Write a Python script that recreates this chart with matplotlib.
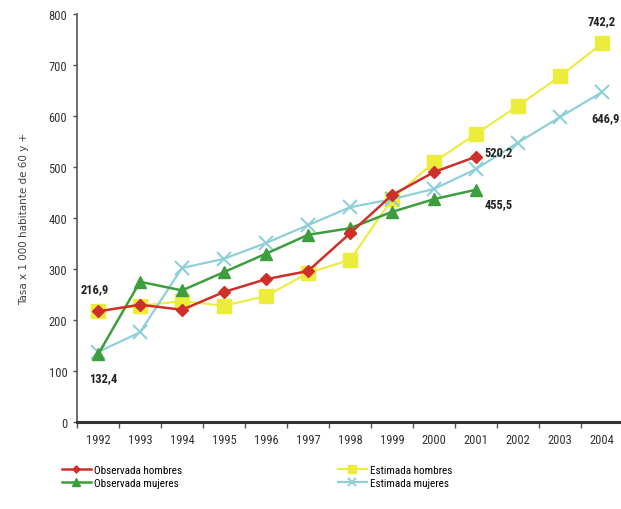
import matplotlib
matplotlib.use("Agg")
import matplotlib.pyplot as plt
from matplotlib import font_manager

names = {f.name for f in font_manager.fontManager.ttflist}
for cand in ["Liberation Sans Narrow", "DejaVu Sans Condensed", "Roboto Condensed", "DejaVu Sans"]:
    if cand in names:
        FONT = cand
        break
plt.rcParams["font.family"] = [FONT, "DejaVu Sans"]

years_obs = [1992, 1993, 1994, 1995, 1996, 1997, 1998, 1999, 2000, 2001]
years_est = [1992, 1993, 1994, 1995, 1996, 1997, 1998, 1999, 2000, 2001, 2002, 2003, 2004]

obs_hombres = [216.9, 230, 220, 255, 280, 296, 370, 445, 490, 520.2]
obs_mujeres = [132.4, 275, 258, 294, 330, 367, 380, 412, 437, 455.5]
est_hombres = [216.9, 228, 237, 228, 247, 292, 318, 437, 510, 565, 620, 678, 742.2]
est_mujeres = [137, 176, 302, 320, 351, 386, 421, 437, 457, 496, 548, 598, 646.9]

y_ticks = [0, 100, 200, 300, 400, 500, 600, 700, 800]
x_labels = [str(y) for y in years_est]

c_red = "#cf2f2a"
c_green = "#3c9e3c"
c_yellow = "#ecec3a"
c_blue = "#8fd0d8"

fig = plt.figure(figsize=(6.21, 5.10), dpi=100)
ax = fig.add_axes([77 / 621, 1 - 423 / 510, 1 - 77 / 621, (423 - 15) / 510])

l_eh, = ax.plot(years_est, est_hombres, color=c_yellow, lw=1.5, marker="s",
                ms=10, mec=c_yellow, mfc=c_yellow, zorder=2, label="Estimada hombres")
l_em, = ax.plot(years_est, est_mujeres, color=c_blue, lw=1.6, marker="x",
                ms=10, mew=1.5, zorder=3, label="Estimada mujeres")
l_om, = ax.plot(years_obs, obs_mujeres, color=c_green, lw=1.8, marker="^",
                ms=9, zorder=4, label="Observada mujeres")
l_oh, = ax.plot(years_obs, obs_hombres, color=c_red, lw=1.8, marker="D",
                ms=6, zorder=5, label="Observada hombres")

ax.set_xlim(1991.5, 2004.45)
ax.set_ylim(0, 800)
ax.set_yticks(y_ticks)
ax.set_xticks([y + 0.5 for y in range(1991, 2004)], minor=False)
ax.set_xticklabels([])
ax.set_xticks(years_est, minor=True)
ax.set_xticklabels(x_labels, minor=True)
ax.tick_params(axis="x", which="minor", length=0, pad=8, labelsize=9)
ax.tick_params(axis="x", which="major", length=4, width=1, color="#555555", direction="out")
ax.tick_params(axis="y", length=3, width=1, color="#555555", labelsize=9, pad=4)
for lab in ax.get_yticklabels() + ax.get_xticklabels(minor=True):
    lab.set_color("#333333")

ax.spines["top"].set_visible(False)
ax.spines["right"].set_visible(False)
ax.spines["left"].set_color("#555555")
ax.spines["left"].set_linewidth(1.2)
ax.spines["bottom"].set_color("#333333")
ax.spines["bottom"].set_linewidth(2.2)

ax.set_ylabel("Tasa x 1 000 habitante de 60 y +", fontsize=7.5, color="#444444",
              family="DejaVu Sans", labelpad=14)

lab_kw = dict(fontsize=9, fontweight="bold", color="#222222")
ax.annotate("216,9", (years_est[0], est_hombres[0]), xytext=(-2, 12),
            textcoords="offset points", ha="center", va="bottom", **lab_kw)
ax.annotate("132,4", (years_obs[0], obs_mujeres[0]), xytext=(4, -12),
            textcoords="offset points", ha="center", va="top", **lab_kw)
ax.annotate("520,2", (years_obs[-1], obs_hombres[-1]), xytext=(6, 4),
            textcoords="offset points", ha="left", va="center", **lab_kw)
ax.annotate("455,5", (years_obs[-1], obs_mujeres[-1]), xytext=(6, -10),
            textcoords="offset points", ha="left", va="center", **lab_kw)
ax.annotate("742,2", (years_est[-1], est_hombres[-1]), xytext=(0, 12),
            textcoords="offset points", ha="center", va="bottom", **lab_kw)
ax.annotate("646,9", (years_est[-1], est_mujeres[-1]), xytext=(13, -14),
            textcoords="offset points", ha="right", va="top", **lab_kw)

fig.legend(handles=[l_oh, l_om, l_eh, l_em], ncol=2, loc="upper left",
           bbox_to_anchor=(52 / 621, 1 - 456 / 510), frameon=False,
           fontsize=8, handlelength=2.6, handletextpad=0.3, columnspacing=14,
           labelspacing=0.3, markerscale=0.6)

fig.savefig("out.png", dpi=100)
